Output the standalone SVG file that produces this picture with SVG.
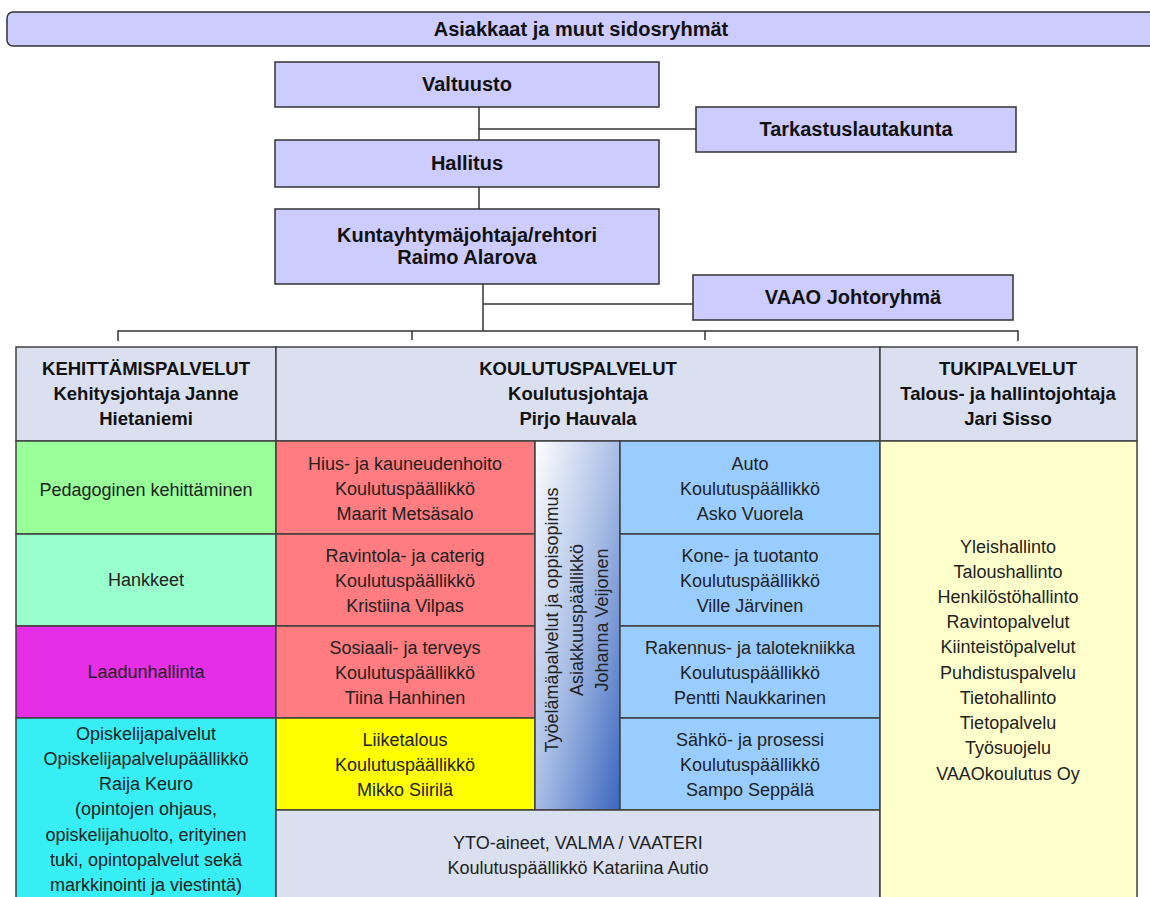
<svg xmlns="http://www.w3.org/2000/svg" width="1150" height="897" viewBox="0 0 1150 897">
<style>
.box{fill:#CCCCFF;stroke:#333;stroke-width:1.5}
.cell{stroke:#404040;stroke-width:1.5}
.hdr{fill:#DAE0F0}
.tb{font-family:"Liberation Sans",Arial,sans-serif;font-weight:bold;font-size:20px;fill:#111;text-anchor:middle}
.th{font-family:"Liberation Sans",Arial,sans-serif;font-weight:bold;font-size:18.5px;fill:#111;text-anchor:middle}
.t{font-family:"Liberation Sans",Arial,sans-serif;font-size:18px;fill:#222;text-anchor:middle}
.ln{stroke:#333;stroke-width:1.5;fill:none}
</style>
<defs>
<linearGradient id="g" x1="0" y1="0" x2="1" y2="1">
<stop offset="0" stop-color="#FFFFFF"/>
<stop offset="0.5" stop-color="#A9BEE6"/>
<stop offset="1" stop-color="#3A66BE"/>
</linearGradient>
</defs>
<rect width="1150" height="897" fill="#fff"/>
<g id="connectors">
<path class="ln" d="M479 107V140M479 129H696M479 187V209M483 284V331M483 304H693M118 341V331H1018V341M412 331V340M705 331V340"/>
</g>
<g id="sidosryhmat">
<rect class="box" x="7" y="12" width="1150" height="34" rx="6"/>
<text class="tb" x="581" y="36">Asiakkaat ja muut sidosryhmät</text>
</g>
<g id="valtuusto">
<rect class="box" x="275" y="62" width="384" height="45"/>
<text class="tb" x="467" y="91">Valtuusto</text>
</g>
<g id="tarkastuslautakunta">
<rect class="box" x="696" y="107" width="320" height="45"/>
<text class="tb" x="856" y="136">Tarkastuslautakunta</text>
</g>
<g id="hallitus">
<rect class="box" x="275" y="140" width="384" height="47"/>
<text class="tb" x="467" y="170">Hallitus</text>
</g>
<g id="kuntayhtymajohtaja">
<rect class="box" x="275" y="209" width="384" height="75"/>
<text class="tb" x="467" y="242">Kuntayhtymäjohtaja/rehtori</text>
<text class="tb" x="467" y="264">Raimo Alarova</text>
</g>
<g id="vaao">
<rect class="box" x="693" y="275" width="320" height="45"/>
<text class="tb" x="853" y="304">VAAO Johtoryhmä</text>
</g>
<g id="kehittamispalvelut">
<rect class="cell hdr" x="16" y="347" width="260" height="94"/>
<text class="th" x="146" y="375">KEHITTÄMISPALVELUT</text>
<text class="th" x="146" y="400">Kehitysjohtaja Janne</text>
<text class="th" x="146" y="425">Hietaniemi</text>
</g>
<g id="koulutuspalvelut">
<rect class="cell hdr" x="276" y="347" width="604" height="94"/>
<text class="th" x="578" y="375">KOULUTUSPALVELUT</text>
<text class="th" x="578" y="400">Koulutusjohtaja</text>
<text class="th" x="578" y="425">Pirjo Hauvala</text>
</g>
<g id="tukipalvelut">
<rect class="cell hdr" x="880" y="347" width="257" height="94"/>
<text class="th" x="1008" y="375">TUKIPALVELUT</text>
<text class="th" x="1008" y="400">Talous- ja hallintojohtaja</text>
<text class="th" x="1008" y="425">Jari Sisso</text>
</g>
<g id="pedagoginen">
<rect class="cell" fill="#99FF99" x="16" y="441" width="260" height="93"/>
<text class="t" x="146" y="496">Pedagoginen kehittäminen</text>
</g>
<g id="hankkeet">
<rect class="cell" fill="#99FFCC" x="16" y="534" width="260" height="92"/>
<text class="t" x="146" y="586">Hankkeet</text>
</g>
<g id="laadunhallinta">
<rect class="cell" fill="#E62EE6" x="16" y="626" width="260" height="92"/>
<text class="t" x="146" y="678">Laadunhallinta</text>
</g>
<g id="opiskelijapalvelut">
<rect class="cell" fill="#38EEF5" x="16" y="718" width="260" height="190"/>
<text class="t" x="146" y="740">Opiskelijapalvelut</text>
<text class="t" x="146" y="765">Opiskelijapalvelupäällikkö</text>
<text class="t" x="146" y="790">Raija Keuro</text>
<text class="t" x="146" y="815">(opintojen ohjaus,</text>
<text class="t" x="146" y="841">opiskelijahuolto, erityinen</text>
<text class="t" x="146" y="866">tuki, opintopalvelut sekä</text>
<text class="t" x="146" y="891">markkinointi ja viestintä)</text>
</g>
<g id="hius">
<rect class="cell" fill="#FF7C80" x="276" y="441" width="259" height="93"/>
<text class="t" x="405" y="470">Hius- ja kauneudenhoito</text>
<text class="t" x="405" y="495">Koulutuspäällikkö</text>
<text class="t" x="405" y="520">Maarit Metsäsalo</text>
</g>
<g id="ravintola">
<rect class="cell" fill="#FF7C80" x="276" y="534" width="259" height="92"/>
<text class="t" x="405" y="562">Ravintola- ja caterig</text>
<text class="t" x="405" y="587">Koulutuspäällikkö</text>
<text class="t" x="405" y="612">Kristiina Vilpas</text>
</g>
<g id="sosiaali">
<rect class="cell" fill="#FF7C80" x="276" y="626" width="259" height="92"/>
<text class="t" x="405" y="654">Sosiaali- ja terveys</text>
<text class="t" x="405" y="679">Koulutuspäällikkö</text>
<text class="t" x="405" y="704">Tiina Hanhinen</text>
</g>
<g id="liiketalous">
<rect class="cell" fill="#FFFF00" x="276" y="718" width="259" height="92"/>
<text class="t" x="405" y="746">Liiketalous</text>
<text class="t" x="405" y="771">Koulutuspäällikkö</text>
<text class="t" x="405" y="796">Mikko Siirilä</text>
</g>
<g id="tyoelama">
<rect class="cell" fill="url(#g)" x="535" y="441" width="85" height="369"/>
<text class="t" transform="translate(558 620) rotate(-90)">Työelämäpalvelut ja oppisopimus</text>
<text class="t" transform="translate(583 620) rotate(-90)">Asiakkuuspäällikkö</text>
<text class="t" transform="translate(608 620) rotate(-90)">Johanna Veijonen</text>
</g>
<g id="auto">
<rect class="cell" fill="#99CCFF" x="620" y="441" width="260" height="93"/>
<text class="t" x="750" y="470">Auto</text>
<text class="t" x="750" y="495">Koulutuspäällikkö</text>
<text class="t" x="750" y="520">Asko Vuorela</text>
</g>
<g id="kone">
<rect class="cell" fill="#99CCFF" x="620" y="534" width="260" height="92"/>
<text class="t" x="750" y="562">Kone- ja tuotanto</text>
<text class="t" x="750" y="587">Koulutuspäällikkö</text>
<text class="t" x="750" y="612">Ville Järvinen</text>
</g>
<g id="rakennus">
<rect class="cell" fill="#99CCFF" x="620" y="626" width="260" height="92"/>
<text class="t" x="750" y="654">Rakennus- ja talotekniikka</text>
<text class="t" x="750" y="679">Koulutuspäällikkö</text>
<text class="t" x="750" y="704">Pentti Naukkarinen</text>
</g>
<g id="sahko">
<rect class="cell" fill="#99CCFF" x="620" y="718" width="260" height="92"/>
<text class="t" x="750" y="746">Sähkö- ja prosessi</text>
<text class="t" x="750" y="771">Koulutuspäällikkö</text>
<text class="t" x="750" y="796">Sampo Seppälä</text>
</g>
<g id="yto">
<rect class="cell hdr" x="276" y="810" width="604" height="98"/>
<text class="t" x="578" y="849">YTO-aineet, VALMA / VAATERI</text>
<text class="t" x="578" y="874">Koulutuspäällikkö Katariina Autio</text>
</g>
<g id="tuki">
<rect class="cell" fill="#FFFFCC" x="880" y="441" width="257" height="467"/>
<text class="t" x="1008" y="553">Yleishallinto</text>
<text class="t" x="1008" y="578">Taloushallinto</text>
<text class="t" x="1008" y="603">Henkilöstöhallinto</text>
<text class="t" x="1008" y="628">Ravintopalvelut</text>
<text class="t" x="1008" y="653">Kiinteistöpalvelut</text>
<text class="t" x="1008" y="679">Puhdistuspalvelu</text>
<text class="t" x="1008" y="704">Tietohallinto</text>
<text class="t" x="1008" y="729">Tietopalvelu</text>
<text class="t" x="1008" y="754">Työsuojelu</text>
<text class="t" x="1008" y="780">VAAOkoulutus Oy</text>
</g>
</svg>
